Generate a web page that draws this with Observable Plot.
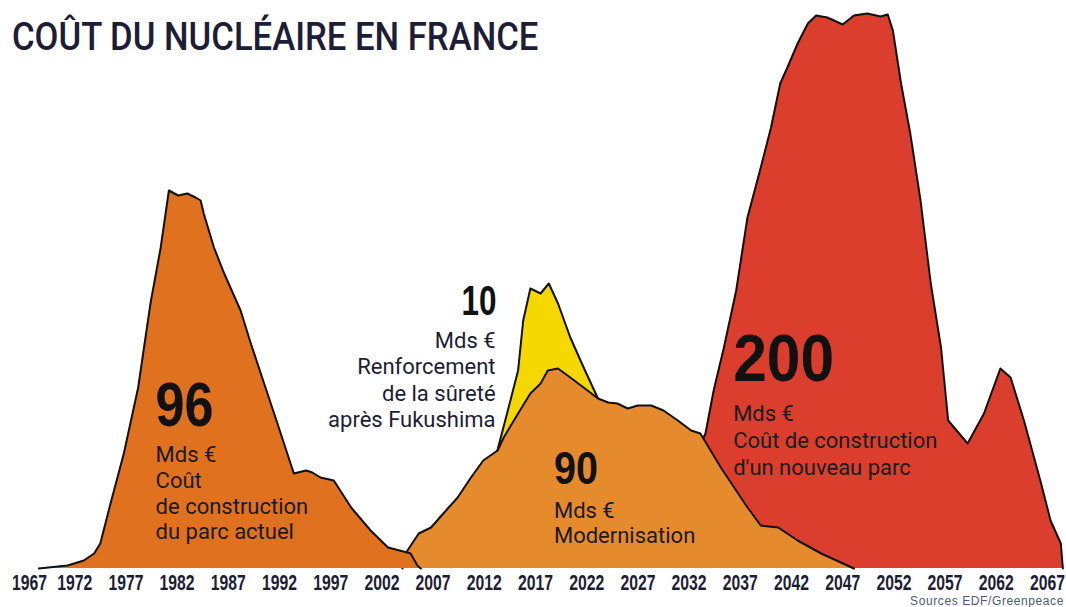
<!DOCTYPE html>
<html>
<head>
<meta charset="utf-8">
<script src="https://cdn.jsdelivr.net/npm/d3@7"></script>
<script src="https://cdn.jsdelivr.net/npm/@observablehq/plot@0.6"></script>
<style>
  body { margin: 0; background: #fff; }
  #wrap { position: relative; width: 1066px; height: 607px; overflow: hidden; background: #fff; }
  #chart { position: absolute; left: 0; top: 0; }
  #title { position: absolute; left: 12px; top: 18px; font: 500 38px Roboto, "DejaVu Sans", sans-serif; line-height: 1; color: #1d1d35; white-space: nowrap; transform: scaleX(0.912); transform-origin: 0 0; }
  #source { position: absolute; right: 2px; top: 595px; font: 12px "Liberation Sans", Arial, sans-serif; line-height: 1; letter-spacing: 0.6px; color: #4a5a78; white-space: nowrap; }
</style>
</head>
<body>
<div id="wrap">
  <div id="chart"></div>
  <div id="title">COÛT DU NUCLÉAIRE EN FRANCE</div>
  <div id="source">Sources EDF/Greenpeace</div>
</div>
<script>
// Tick labels (years)
const tickYears = [1967, 1972, 1977, 1982, 1987, 1992, 1997, 2002, 2007, 2012, 2017, 2022, 2027, 2032, 2037, 2042, 2047, 2052, 2057, 2062, 2067];

// Construction du parc actuel (96 Mds €) — dépenses annuelles estimées
const parcActuelYears = [1968.5, 1971.3, 1972.9, 1973.9, 1974.5, 1975.5, 1976.8, 1978.2, 1979.4, 1980.4, 1981.2, 1982.1, 1983.0, 1983.8, 1984.3, 1984.6, 1985.6, 1986.6, 1988.2, 1989.2, 1990.5, 1991.8, 1993.4, 1994.6, 1995.2, 1996.0, 1997.3, 1999.0, 2000.9, 2002.6, 2004.1, 2004.8, 2005.5, 2005.8];
const parcActuelValues = [0, 0.06, 0.16, 0.3, 0.5, 1.3, 2.3, 3.62, 5.3, 6.42, 7.56, 7.46, 7.5, 7.42, 7.36, 7.1, 6.42, 5.9, 5.16, 4.5, 3.7, 2.9, 1.9, 1.96, 1.92, 1.82, 1.76, 1.22, 0.76, 0.42, 0.34, 0.3, 0.05, 0];

// Modernisation (90 Mds €)
const modernisationYears = [2004.0, 2004.5, 2005.6, 2006.8, 2008.0, 2009.4, 2010.7, 2011.9, 2013.3, 2013.9, 2015.3, 2016.5, 2017.5, 2018.2, 2019.2, 2020.4, 2021.7, 2023.1, 2024.1, 2025.0, 2026.0, 2027.0, 2028.3, 2029.5, 2030.9, 2032.2, 2033.1, 2035.1, 2037.7, 2039.0, 2040.7, 2042.6, 2044.9, 2048.1];
const modernisationValues = [0, 0.36, 0.7, 0.82, 1.1, 1.42, 1.82, 2.16, 2.36, 2.62, 3.1, 3.5, 3.7, 3.96, 4.0, 3.82, 3.62, 3.4, 3.32, 3.3, 3.2, 3.26, 3.26, 3.16, 2.96, 2.76, 2.7, 2.02, 1.22, 0.86, 0.82, 0.56, 0.3, 0];

// Renforcement de la sûreté après Fukushima (10 Mds €), cumulé au-dessus de la modernisation
const sureteYears = [2013.2, 2014.3, 2015.3, 2015.8, 2016.5, 2017.5, 2018.3, 2019.2, 2020.4, 2021.7, 2023.1, 2023.6];
const sureteValues = [2.3, 3.16, 3.96, 4.96, 5.6, 5.5, 5.7, 5.3, 4.62, 4.02, 3.4, 3.2];

// Construction d'un nouveau parc (200 Mds €)
const nouveauParcYears = [2032.0, 2033.6, 2034.4, 2035.4, 2036.6, 2037.7, 2039.0, 2040.0, 2040.9, 2041.6, 2042.6, 2043.6, 2044.4, 2045.5, 2047.0, 2048.1, 2049.4, 2050.7, 2051.4, 2051.9, 2052.7, 2053.6, 2054.6, 2055.6, 2056.6, 2057.3, 2059.2, 2060.8, 2062.4, 2063.4, 2064.7, 2066.3, 2067.3, 2068.3, 2068.5];
const nouveauParcValues = [2.0, 2.7, 3.56, 4.42, 5.56, 7.02, 8.02, 8.82, 9.7, 10.02, 10.5, 10.9, 11.06, 11.02, 10.88, 11.06, 11.1, 11.04, 11.08, 10.76, 9.7, 8.7, 7.36, 5.7, 4.42, 2.96, 2.5, 3.1, 4.0, 3.82, 2.96, 1.76, 0.96, 0.5, 0];

// Annotation texts
const labelParcActuel = ["96", "Mds €\nCoût\nde construction\ndu parc actuel"];
const labelSurete = ["10", "Mds €\nRenforcement\nde la sûreté\naprès Fukushima"];
const labelModernisation = ["90", "Mds €\nModernisation"];
const labelNouveauParc = ["200", "Mds €\nCoût de construction\nd'un nouveau parc"];

const toRows = (xs, ys) => xs.map((x, i) => ({year: x, value: ys[i]}));
const parcActuel = toRows(parcActuelYears, parcActuelValues);
const modernisation = toRows(modernisationYears, modernisationValues);
const surete = toRows(sureteYears, sureteValues);
const nouveauParc = toRows(nouveauParcYears, nouveauParcValues);

const OUTLINE = "#111";
const layer = (data, fill) => [
  Plot.areaY(data, {x: "year", y: "value", fill}),
  Plot.lineY(data, {x: "year", y: "value", stroke: OUTLINE, strokeWidth: 2, strokeLinejoin: "round"})
];

const bigFont = "'Liberation Sans', Arial, sans-serif";
const smallFont = "Roboto, 'DejaVu Sans', sans-serif";
const txt = (s, x, y, opts) => Plot.text([s], {x: () => x, y: () => y, text: d => d, lineAnchor: "top", textAnchor: "start", ...opts});

const chart = Plot.plot({
  width: 1066,
  height: 607,
  marginLeft: 23,
  marginRight: 19,
  marginTop: 13,
  marginBottom: 39,
  style: {fontFamily: "'Liberation Sans', Arial, sans-serif", fontSize: "22px", fontWeight: "bold", color: "#1d1d35", background: "transparent", overflow: "visible"},
  x: {domain: [1967, 2067], ticks: tickYears, tickFormat: d => String(d), tickSize: 0, tickPadding: 6, label: null},
  y: {domain: [0, 11.1], axis: null},
  marks: [
    ...layer(nouveauParc, "#DB3E2D"),
    ...layer(surete, "#F5D800"),
    ...layer(modernisation, "#E68A2E"),
    ...layer(parcActuel, "#E0711E"),
    // 96 Mds €
    txt(labelParcActuel[0], 1979.9, 3.75, {fontSize: 63, fontFamily: bigFont, fontWeight: "bold", fill: "#111"}),
    txt(labelParcActuel[1], 1979.9, 2.49, {fontSize: 22, fontFamily: smallFont, fontWeight: "normal", fill: "#1a1a1a", lineHeight: 1.17}),
    // 10 Mds €
    txt(labelSurete[0], 2013.2, 5.66, {fontSize: 42, fontFamily: bigFont, fontWeight: "bold", fill: "#111", textAnchor: "end"}),
    txt(labelSurete[1], 2013.1, 4.79, {fontSize: 22, fontFamily: smallFont, fontWeight: "normal", fill: "#1d1d35", lineHeight: 1.2, textAnchor: "end"}),
    // 90 Mds €
    txt(labelModernisation[0], 2018.8, 2.35, {fontSize: 46, fontFamily: bigFont, fontWeight: "bold", fill: "#111"}),
    txt(labelModernisation[1], 2018.8, 1.37, {fontSize: 22, fontFamily: smallFont, fontWeight: "normal", fill: "#1a1a1a", lineHeight: 1.14}),
    // 200 Mds €
    txt(labelNouveauParc[0], 2036.3, 4.69, {fontSize: 66, fontFamily: bigFont, fontWeight: "bold", fill: "#111"}),
    txt(labelNouveauParc[1], 2036.3, 3.33, {fontSize: 22, fontFamily: smallFont, fontWeight: "normal", fill: "#1a1a1a", lineHeight: 1.23})
  ]
});
document.getElementById("chart").appendChild(chart);

// Condense the narrow-font texts (tick labels and big numbers) to the reference widths
const condensed = {"96": 58, "200": 101, "10": 35, "90": 44};
const tickSet = new Set(tickYears.map(String));
chart.querySelectorAll("text").forEach(t => {
  if (t.querySelector("tspan")) return;
  const s = t.textContent.trim();
  if (s in condensed) {
    t.setAttribute("textLength", condensed[s]);
    t.setAttribute("lengthAdjust", "spacingAndGlyphs");
  } else if (tickSet.has(s)) {
    t.style.fontSize = "22px";
    t.style.fontWeight = "bold";
    t.style.fontFamily = "'Liberation Sans', Arial, sans-serif";
    t.setAttribute("fill", "#1d1d35");
    t.setAttribute("textLength", 35);
    t.setAttribute("lengthAdjust", "spacingAndGlyphs");
    if (s === "1967") t.setAttribute("dx", 6);
  }
});
</script>
</body>
</html>
